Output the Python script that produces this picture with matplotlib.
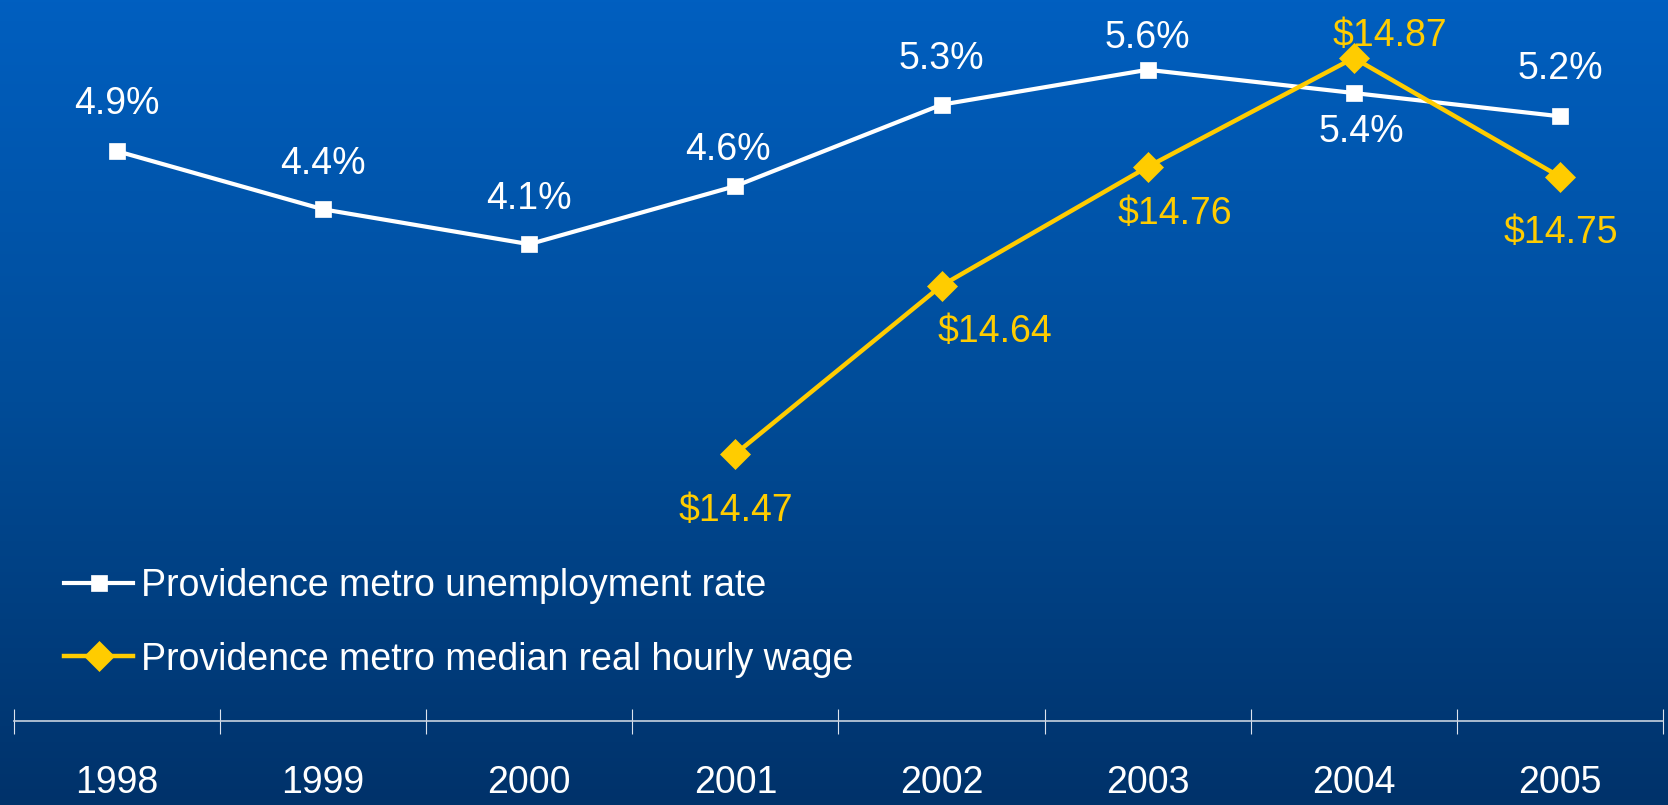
import numpy as np
import matplotlib
matplotlib.use("Agg")
import matplotlib.pyplot as plt
from matplotlib.colors import LinearSegmentedColormap

plt.rcParams['font.family'] = ['Liberation Sans', 'DejaVu Sans']

# ---- data ----
years = ["1998", "1999", "2000", "2001", "2002", "2003", "2004", "2005"]
unemployment = [4.9, 4.4, 4.1, 4.6, 5.3, 5.6, 5.4, 5.2]
wage_years = ["2001", "2002", "2003", "2004", "2005"]
wages = [14.47, 14.64, 14.76, 14.87, 14.75]
unemp_labels = ["4.9%", "4.4%", "4.1%", "4.6%", "5.3%", "5.6%", "5.4%", "5.2%"]
wage_labels = ["$14.47", "$14.64", "$14.76", "$14.87", "$14.75"]
series_names = ["Providence metro unemployment rate",
                "Providence metro median real hourly wage"]

# ---- style ----
WHITE = "#ffffff"
GOLD = "#ffcc00"
FS = 27
W, H, DPI = 16.68, 8.05, 100

fig = plt.figure(figsize=(W, H), dpi=DPI)

# gradient background
bg = fig.add_axes([0, 0, 1, 1], zorder=0)
cmap = LinearSegmentedColormap.from_list("bg", ["#005fc0", "#004c98", "#00326a"])
grad = np.linspace(0, 1, 256).reshape(-1, 1)
bg.imshow(grad, aspect="auto", cmap=cmap, extent=[0, 1, 0, 1], origin="upper")
bg.set_axis_off()

rect = [14 / 1668, 84 / 805, 1649 / 1668, 721 / 805]
ax = fig.add_axes(rect, zorder=2)
ax.patch.set_alpha(0)
ax2 = fig.add_axes(rect, zorder=3, sharex=ax)
ax2.patch.set_alpha(0)

x = np.arange(len(years))
xw = np.array([years.index(y) for y in wage_years])

l1, = ax.plot(x, unemployment, color=WHITE, lw=3.0, marker="s", ms=11,
              mfc=WHITE, mec=WHITE, mew=0.5, label=series_names[0])
l2, = ax2.plot(xw, wages, color=GOLD, lw=3.2, marker="D", ms=15,
               mfc=GOLD, mec=GOLD, mew=0.5, label=series_names[1])

ax.set_ylim(0, 6.2)
ax2.set_ylim(14.2, 14.9286)
ax.set_xlim(-0.5, len(years) - 0.5)

# data labels (offsets in pixels -> points)
px = 72 / DPI
shift = -4
u_off = [(0, 51), (0, 49), (0, 49), (-7, 40), (0, 50), (0, 36), (8, -35), (0, 51)]
for xi, v, lab, (dx, dy) in zip(x, unemployment, unemp_labels, u_off):
    ax.annotate(lab, (xi, v), xytext=(dx * px, (dy + shift) * px), textcoords="offset points",
                ha="center", va="center", color=WHITE, fontsize=FS)
w_off = [(0, -53), (53, -42), (27, -43), (36, 26), (1, -52)]
for xi, v, lab, (dx, dy) in zip(xw, wages, wage_labels, w_off):
    ax2.annotate(lab, (xi, v), xytext=(dx * px, (dy + shift) * px), textcoords="offset points",
                 ha="center", va="center", color=GOLD, fontsize=FS)

# axes styling
for a in (ax, ax2):
    for s in ("top", "right", "left"):
        a.spines[s].set_visible(False)
    a.set_yticks([])
ax2.spines["bottom"].set_visible(False)
ax.spines["bottom"].set_color("#c8d2e0")
ax.spines["bottom"].set_linewidth(1.2)

ax.set_xticks(x)
ax.set_xticklabels(years)
ax.set_xticks(np.arange(-0.5, len(years)), minor=True)
ax.tick_params(axis="x", which="major", length=0, pad=32, labelsize=FS, labelcolor=WHITE)
ax.tick_params(axis="x", which="minor", direction="inout", length=18, width=0.8,
               color="#dce3ee")
ax2.tick_params(axis="x", which="both", bottom=False, labelbottom=False)

leg = fig.legend(handles=[l1, l2], loc="upper left",
                 bbox_to_anchor=(64 / 1668, (805 - 568) / 805),
                 frameon=False, fontsize=FS, labelcolor=WHITE,
                 handlelength=1.84, handletextpad=0.21, labelspacing=1.0,
                 borderpad=0, borderaxespad=0)
leg.set_zorder(5)

fig.savefig("out.png", dpi=DPI)
